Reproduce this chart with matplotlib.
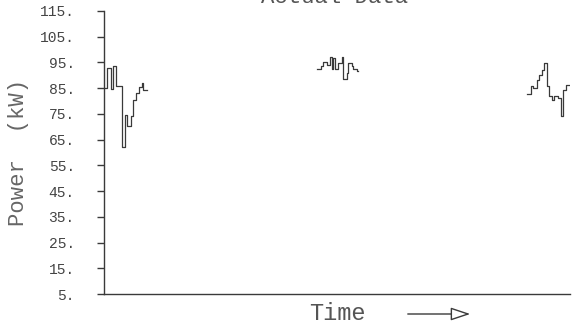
import matplotlib.pyplot as plt
from matplotlib.patches import FancyArrowPatch

# three measurement windows, step data (time in arbitrary units, power in kW)
t1 = [0, 1, 2.5, 3.5, 4.5, 6.6, 7.7, 8.5, 10, 11, 12.2, 13.2, 14.1, 14.7, 16.2]
p1 = [85, 93, 84.5, 93.5, 85.8, 62, 74.6, 70.3, 74.2, 80.4, 83.2, 85.3, 86.9, 84.3, 84.3]

t2 = [79.9, 81.4, 82.3, 83.6, 84.9, 85.6, 86.1, 86.7, 88, 89.3, 89.9, 91.1, 91.7, 93, 93.6, 94.9, 95.4]
p2 = [92.3, 93.8, 95.3, 94, 97, 92.4, 96.8, 92.4, 94.8, 97.3, 88.5, 91, 94.8, 93.5, 92.4, 91.8, 91.8]

t3 = [159, 160.2, 161.2, 162.5, 163.5, 164.4, 165.3, 166.5, 167.2, 168.1, 169, 170.6, 171.5, 172.5, 173.5, 175]
p3 = [82.6, 85.7, 85, 88.2, 90.1, 92, 94.6, 85.7, 81.8, 80.4, 82, 81.1, 74, 84.3, 86.2, 86.2]

yticks = list(range(5, 116, 10))
ytick_labels = [f"{v}." for v in yticks]

ink = '#3a3a3a'
font = 'Liberation Mono'

fig = plt.figure(figsize=(5.72, 3.28), dpi=100)
ax = fig.add_axes([104/572, 1 - 294/328, 466/572, 283/328])

for t, p in [(t1, p1), (t2, p2), (t3, p3)]:
    ax.plot(t, p, drawstyle='steps-post', color=ink, lw=0.9)

ax.set_xlim(0, 175)
ax.set_ylim(5, 115)
ax.set_xticks([])
ax.set_yticks(yticks)
ax.set_yticklabels(ytick_labels, fontfamily=font, fontsize=10.5, color='#444444')
ax.tick_params(axis='y', direction='out', length=5, width=1, color=ink, pad=16)
for s in ['top', 'right']:
    ax.spines[s].set_visible(False)
for s in ['left', 'bottom']:
    ax.spines[s].set_color(ink)
    ax.spines[s].set_linewidth(1)

ax.set_ylabel('Power  (kW)', fontfamily=font, fontsize=16, color='#666666', labelpad=8)
ax.set_xlabel('Time', fontfamily=font, fontsize=17, color='#555555', labelpad=6)

# title sits mostly above the top edge, as in the original
fig.text(335/572, 1 - 3/328, 'Actual Data', ha='center', va='baseline',
         fontfamily=font, fontsize=16, color='#555555')

arrow = FancyArrowPatch((405/572, 1 - 314/328), (473/572, 1 - 314/328),
                        transform=fig.transFigure,
                        arrowstyle='-|>,head_length=12,head_width=4',
                        fc='white', ec=ink, lw=1)
fig.patches.append(arrow)

fig.savefig('out.png', dpi=100)
